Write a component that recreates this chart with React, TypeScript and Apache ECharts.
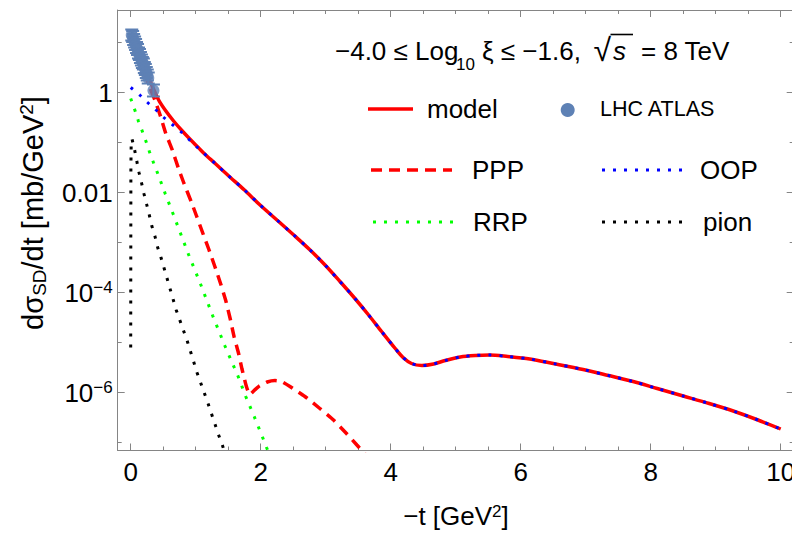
import React, { useEffect, useRef } from 'react';
import * as echarts from 'echarts';

// ---- axis ticks (y in log10 units) ----
const xMajorTicks = [0, 2, 4, 6, 8, 10];
const xMinorTicks = [0.5, 1, 1.5, 2.5, 3, 3.5, 4.5, 5, 5.5, 6.5, 7, 7.5, 8.5, 9, 9.5];
const yMajorTicks = [-6, -4, -2, 0];
const yMajorLabels = ['10^−6', '10^−4', '0.01', '1'];
const yMinorTicks = [-7, -5, -3, -1, 1];

// ---- curves: [ -t (GeV^2), log10(dσ/dt) ] ----
const modelHead = [
  [0.016, 1.12], [0.1, 0.84], [0.2, 0.52], [0.3, 0.22], [0.43, -0.15], [0.53, -0.35],
  [0.66, -0.57], [0.78, -0.75], [0.91, -0.93], [1.04, -1.1],
];
const oopHead = [
  [0, 0.1], [0.14, -0.05], [0.26, -0.2], [0.39, -0.35], [0.51, -0.5], [0.64, -0.64],
  [0.77, -0.78], [0.89, -0.93], [1.01, -1.08],
];
const sharedTail = [
  [1.13, -1.22], [1.3, -1.42], [1.5, -1.66], [1.75, -1.95], [1.99, -2.25], [2.25, -2.55],
  [2.5, -2.84], [2.76, -3.15], [2.99, -3.45], [3.22, -3.78], [3.45, -4.12], [3.66, -4.45],
  [3.86, -4.78], [4.07, -5.12], [4.19, -5.3], [4.32, -5.42], [4.48, -5.46], [4.66, -5.43],
  [4.84, -5.36], [5.07, -5.29], [5.3, -5.26], [5.52, -5.25], [5.8, -5.28], [6.14, -5.33],
  [6.5, -5.42], [6.96, -5.54], [7.35, -5.66], [7.73, -5.78], [8.1, -5.92], [8.5, -6.07],
  [8.9, -6.22], [9.27, -6.37], [9.65, -6.55], [10, -6.73],
];
const pppCurve = [
  [0.016, 1.08], [0.1, 0.78], [0.2, 0.43], [0.3, 0.08], [0.375, -0.16], [0.46, -0.48],
  [0.54, -0.82], [0.64, -1.15], [0.73, -1.5], [0.82, -1.82], [0.93, -2.18], [1.01, -2.46],
  [1.1, -2.78], [1.2, -3.13], [1.3, -3.5], [1.39, -3.85], [1.46, -4.15], [1.53, -4.52],
  [1.59, -4.88], [1.66, -5.22], [1.71, -5.52], [1.78, -5.88], [1.83, -6.04], [1.9, -5.96],
  [1.98, -5.87], [2.1, -5.79], [2.22, -5.76], [2.32, -5.78], [2.45, -5.88], [2.68, -6.08],
  [2.91, -6.32], [3.12, -6.55], [3.32, -6.82], [3.48, -7.05], [3.62, -7.25],
];
const rrpCurve = [
  [0, -0.12], [0.066, -0.36], [0.118, -0.57], [0.18, -0.78], [0.236, -0.98], [0.29, -1.19],
  [0.35, -1.4], [0.41, -1.6], [0.53, -2.02], [0.65, -2.42], [0.77, -2.83], [0.89, -3.24],
  [1.08, -3.85], [1.26, -4.46], [1.45, -5.07], [1.65, -5.67], [1.77, -6.08], [1.9, -6.48],
  [2.03, -6.9], [2.09, -7.1], [2.16, -7.32],
];
const pionCurve = [
  [0, -5.1], [0.003, -1.5], [0.008, -1.0], [0.02, -0.93], [0.056, -1.12], [0.092, -1.36],
  [0.128, -1.6], [0.169, -1.82], [0.205, -2.03], [0.246, -2.24], [0.286, -2.45], [0.323, -2.66],
  [0.374, -2.88], [0.415, -3.1], [0.466, -3.3], [0.56, -3.72], [0.7, -4.35], [0.87, -4.97],
  [1.02, -5.6], [1.19, -6.22], [1.35, -6.84], [1.41, -7.05], [1.47, -7.3],
];

// ---- LHC ATLAS data ----
const atlasT = [0.016, 0.03, 0.045, 0.06, 0.075, 0.09, 0.105, 0.12, 0.135, 0.15, 0.165, 0.18, 0.195, 0.21, 0.225, 0.24, 0.255, 0.27, 0.35];
const atlasLog = [1.15, 1.12, 1.06, 1.01, 0.96, 0.9, 0.86, 0.79, 0.76, 0.7, 0.65, 0.6, 0.57, 0.5, 0.46, 0.4, 0.35, 0.29, 0.04];
const atlasErr = [0.11, 0.11, 0.11, 0.11, 0.11, 0.11, 0.11, 0.11, 0.11, 0.11, 0.11, 0.11, 0.11, 0.11, 0.11, 0.11, 0.11, 0.11, 0.12];

const FONT = '"Liberation Sans", Arial, sans-serif';
const AXIS = '#858585';
const DATA_COL = '#5E81B5';
const DOT = [3, 8];
const DASH = [11, 7];

function xAxisDef(pos: string, ticks: number[], len: number, line: boolean, labels: boolean) {
  return {
    type: 'value', min: -0.2, max: 10.2, position: pos,
    axisLine: { show: line, onZero: false, lineStyle: { color: AXIS, width: 1 } },
    axisTick: { show: true, inside: true, length: len, customValues: ticks, lineStyle: { color: AXIS, width: 1 } },
    axisLabel: labels
      ? { show: true, customValues: xMajorTicks, margin: 8, color: '#000', fontSize: 26, fontFamily: FONT }
      : { show: false },
    splitLine: { show: false },
  };
}

function yAxisDef(pos: string, ticks: number[], len: number, line: boolean, labels: boolean) {
  return {
    type: 'value', min: -7.16, max: 1.65, position: pos,
    axisLine: { show: line, onZero: false, lineStyle: { color: AXIS, width: 1 } },
    axisTick: { show: true, inside: true, length: len, customValues: ticks, lineStyle: { color: AXIS, width: 1 } },
    axisLabel: labels
      ? {
          show: true, customValues: yMajorTicks, margin: 5, color: '#000',
          formatter: (v: number) => {
            const i = yMajorTicks.indexOf(Math.round(v));
            const s = yMajorLabels[i] || '';
            if (s.indexOf('^') >= 0) {
              const [b, e] = s.split('^');
              return `{b|${b}}{s|${e}}`;
            }
            return `{b|${s}}`;
          },
          rich: {
            b: { fontSize: 26, fontFamily: FONT, color: '#000', lineHeight: 27 },
            s: { fontSize: 17, fontFamily: FONT, color: '#000', lineHeight: 17, verticalAlign: 'top' },
          },
        }
      : { show: false },
    splitLine: { show: false },
  };
}

function lineSeries(name: string, data: number[][], color: string, width: number, type: any, smooth: number | boolean) {
  return {
    name, type: 'line', data, showSymbol: false, symbol: 'none', smooth, clip: true, z: 3,
    lineStyle: { color, width, type, cap: 'butt' }, silent: true,
  };
}

export default function App() {
  const ref = useRef<HTMLDivElement>(null);
  useEffect(() => {
    if (!ref.current) return;
    const chart = echarts.init(ref.current, undefined, { renderer: 'svg' });
    const modelCurve = modelHead.concat(sharedTail);
    const oopCurve = oopHead.concat(sharedTail);
    const atlas = atlasT.map((t, i) => [t, atlasLog[i], atlasErr[i]]);

    const txt = (o: any) => ({ fontFamily: FONT, fill: '#000', ...o });
    const label = (text: string, x: number, y: number, size: number, extra: any = {}) => ({
      type: 'text', x, y, style: txt({ text, fontSize: size, align: 'left', verticalAlign: 'middle', ...extra }),
    });

    chart.setOption({
      animation: false,
      backgroundColor: '#fff',
      grid: { left: 117.7, top: 10, width: 676, height: 440.5, containLabel: false, outerBoundsMode: 'none' },
      xAxis: [
        xAxisDef('bottom', xMajorTicks, 7, true, true),
        xAxisDef('bottom', xMinorTicks, 4, false, false),
        xAxisDef('top', xMajorTicks, 7, true, false),
        xAxisDef('top', xMinorTicks, 4, false, false),
      ],
      yAxis: [
        yAxisDef('left', yMajorTicks, 7, true, true),
        yAxisDef('left', yMinorTicks, 4, false, false),
        yAxisDef('right', yMajorTicks, 7, true, false),
        yAxisDef('right', yMinorTicks, 4, false, false),
      ],
      series: [
        lineSeries('pion', pionCurve, '#000000', 3, DOT, false),
        lineSeries('RRP', rrpCurve, '#00FF00', 3, DOT, false),
        lineSeries('PPP', pppCurve, '#FF0000', 3.5, DASH, 0.15),
        lineSeries('model', modelCurve, '#FF0000', 3.5, 'solid', 0.3),
        lineSeries('OOP', oopCurve, '#0000FF', 3, DOT, 0.3),
        {
          name: 'ATLAS errors', type: 'custom', data: atlas, clip: true, silent: true, z: 9,
          renderItem: (params: any, api: any) => {
            const x = api.value(0), y = api.value(1), e = api.value(2);
            const p1 = api.coord([x, y + e]);
            const p2 = api.coord([x, y - e]);
            const cw = 6.5;
            const st = { stroke: DATA_COL, lineWidth: 2 };
            return {
              type: 'group',
              children: [
                { type: 'line', shape: { x1: p1[0], y1: p1[1], x2: p2[0], y2: p2[1] }, style: st },
                { type: 'line', shape: { x1: p1[0] - cw, y1: p1[1], x2: p1[0] + cw, y2: p1[1] }, style: st },
                { type: 'line', shape: { x1: p2[0] - cw, y1: p2[1], x2: p2[0] + cw, y2: p2[1] }, style: st },
              ],
            };
          },
        },
        {
          name: 'LHC ATLAS', type: 'scatter', data: atlas.map((d) => [d[0], d[1]]), z: 10,
          symbol: 'circle', symbolSize: 12, itemStyle: { color: DATA_COL }, silent: true,
        },
      ],
      graphic: [
        // title, pieces placed like the reference
        label('−4.0 ≤ Log', 335, 50.5, 26),
        label('10', 456, 64, 17),
        label('ξ ≤ −1.6,', 482, 50.5, 26),
        label('√', 593.5, 50, 32),
        { type: 'line', shape: { x1: 610.5, y1: 34.5, x2: 633, y2: 34.5 }, style: { stroke: '#000', lineWidth: 1.6 } },
        label('s', 613, 50.5, 26, { fontStyle: 'italic' }),
        label('= 8 TeV', 641, 50.5, 26),
        // legend row 1
        { type: 'line', shape: { x1: 368, y1: 109, x2: 413, y2: 109 }, style: { stroke: '#FF0000', lineWidth: 3.5 } },
        label('model', 427, 109, 26),
        { type: 'circle', shape: { cx: 567.7, cy: 110, r: 7 }, style: { fill: DATA_COL } },
        label('LHC ATLAS', 600, 109, 21.5),
        // legend row 2
        { type: 'line', shape: { x1: 371, y1: 170, x2: 452, y2: 170 }, style: { stroke: '#FF0000', lineWidth: 3.5, lineDash: DASH } },
        label('PPP', 472, 170, 26),
        { type: 'line', shape: { x1: 602, y1: 170, x2: 682, y2: 170 }, style: { stroke: '#0000FF', lineWidth: 3, lineDash: DOT } },
        label('OOP', 700, 170, 26),
        // legend row 3
        { type: 'line', shape: { x1: 373, y1: 222, x2: 454, y2: 222 }, style: { stroke: '#00FF00', lineWidth: 3, lineDash: DOT } },
        label('RRP', 473, 222, 26),
        { type: 'line', shape: { x1: 602, y1: 222, x2: 682, y2: 222 }, style: { stroke: '#000000', lineWidth: 3, lineDash: DOT } },
        label('pion', 703, 222, 26),
        // axis titles
        {
          type: 'text', x: 456, y: 516,
          style: txt({
            text: '{n|−t [GeV}{sup|2}{n|]}', align: 'center', verticalAlign: 'middle',
            rich: {
              n: { fontSize: 26, fontFamily: FONT, lineHeight: 27 },
              sup: { fontSize: 17, fontFamily: FONT, lineHeight: 17, verticalAlign: 'top' },
            },
          }),
        },
        {
          type: 'text', x: 33, y: 213, rotation: Math.PI / 2,
          style: txt({
            text: '{n|dσ}{sub|SD}{n|/dt [mb/GeV}{sup|2}{n|]}', align: 'center', verticalAlign: 'middle',
            rich: {
              n: { fontSize: 29, fontFamily: FONT, lineHeight: 32 },
              sub: { fontSize: 19, fontFamily: FONT, lineHeight: 19, verticalAlign: 'bottom' },
              sup: { fontSize: 19, fontFamily: FONT, lineHeight: 19, verticalAlign: 'top' },
            },
          }),
        },
      ],
    });
    return () => chart.dispose();
  }, []);
  return <div ref={ref} style={{ position: 'fixed', left: 0, top: 0, width: 792, height: 533, background: '#fff' }} />;
}
